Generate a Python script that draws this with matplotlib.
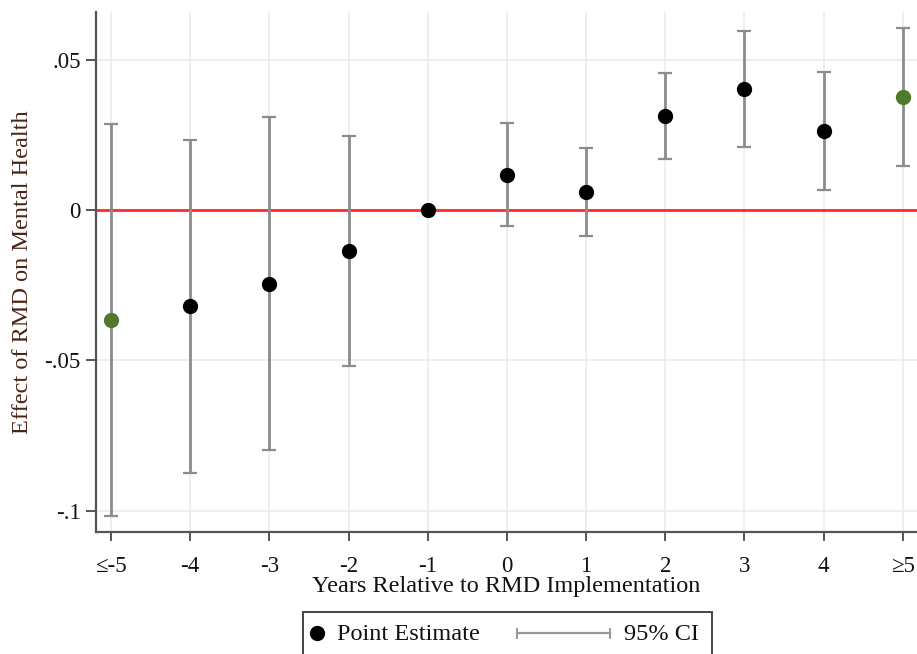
import matplotlib.pyplot as plt
from matplotlib.lines import Line2D
from matplotlib.patches import Rectangle

# event time, estimates and 95% CI bounds
years = [-5, -4, -3, -2, -1, 0, 1, 2, 3, 4, 5]
year_labels = ['≤-5', '-4', '-3', '-2', '-1', '0', '1', '2', '3', '4', '≥5']
estimate = [-0.0365, -0.0319, -0.0246, -0.0136, 0.0, 0.0116, 0.0060, 0.0312, 0.0402, 0.0262, 0.0375]
ci_low = [-0.1017, -0.0874, -0.0797, -0.0518, None, -0.0053, -0.0086, 0.0169, 0.0209, 0.0066, 0.0146]
ci_high = [0.0286, 0.0233, 0.0309, 0.0246, None, 0.0289, 0.0206, 0.0455, 0.0595, 0.0458, 0.0605]
binned = [True, False, False, False, False, False, False, False, False, False, True]

plt.rcParams['font.family'] = ['Liberation Serif', 'DejaVu Serif']

W, H = 917, 654
fig = plt.figure(figsize=(W / 100, H / 100), dpi=100)
ax = fig.add_axes([96 / W, 1 - 532 / H, 1 - 96 / W, (532 - 12) / H])

ci_color = '#8c8c8c'
green = '#4f7a2a'

ax.axhline(0, color='#ff2a2a', lw=2, zorder=2)

for x, lo, hi in zip(years, ci_low, ci_high):
    if lo is None:
        continue
    ax.errorbar([x], [(lo + hi) / 2], yerr=[[(hi - lo) / 2], [(hi - lo) / 2]],
                fmt='none', ecolor=ci_color, elinewidth=2, capsize=5, capthick=1.6, zorder=3)

for x, y, b in zip(years, estimate, binned):
    ax.plot(x, y, 'o', color=green if b else 'black', ms=11, mec='none', zorder=4)

ax.set_xlim(-5.19, 5.18)
ax.set_ylim(-0.107, 0.0658)
ax.set_xticks(years)
ax.set_xticklabels(year_labels)
ax.set_yticks([-0.1, -0.05, 0, 0.05])
ax.set_yticklabels(['-.1', '-.05', '0', '.05'])
ax.tick_params(labelsize=16.5, width=1.4, color='#555555', labelcolor='#111111')
ax.tick_params(axis='x', length=6.5, pad=11)
ax.tick_params(axis='y', length=7, pad=4)
ax.grid(True, color='#ebebeb', lw=1.2, zorder=0)
ax.set_axisbelow(True)

for side in ['top', 'right']:
    ax.spines[side].set_visible(False)
for side in ['left', 'bottom']:
    ax.spines[side].set_color('#555555')
    ax.spines[side].set_linewidth(1.6)

ax.set_xlabel('Years Relative to RMD Implementation', fontsize=17.5, color='#111111', labelpad=-1)
ax.set_ylabel('Effect of RMD on Mental Health', fontsize=17.5, color='#4a2416', labelpad=8)

# legend drawn by hand in pixel positions, box runs off the bottom edge
def fx(px):
    return px / W

def fy(py):
    return 1 - py / H

fig.add_artist(Rectangle((fx(303), fy(680)), fx(712) - fx(303), fy(612) - fy(680),
                         transform=fig.transFigure, fill=False, ec='#444444', lw=1.4, clip_on=False))
row = fy(633)
fig.add_artist(Line2D([fx(317)], [row], marker='o', color='black', ms=11, mec='none',
                      transform=fig.transFigure))
fig.text(fx(337), fy(635), 'Point Estimate', fontsize=17.5, va='center', ha='left', color='#111111')
fig.add_artist(Line2D([fx(517), fx(610)], [row, row], color='#999999', lw=1.6,
                      transform=fig.transFigure))
for cx in [517, 610]:
    fig.add_artist(Line2D([fx(cx), fx(cx)], [row - 4.5 / H, row + 4.5 / H], color='#999999', lw=1.4,
                          transform=fig.transFigure))
fig.text(fx(624), fy(635), '95% CI', fontsize=17.5, va='center', ha='left', color='#111111')

fig.savefig('out.png', dpi=100)
